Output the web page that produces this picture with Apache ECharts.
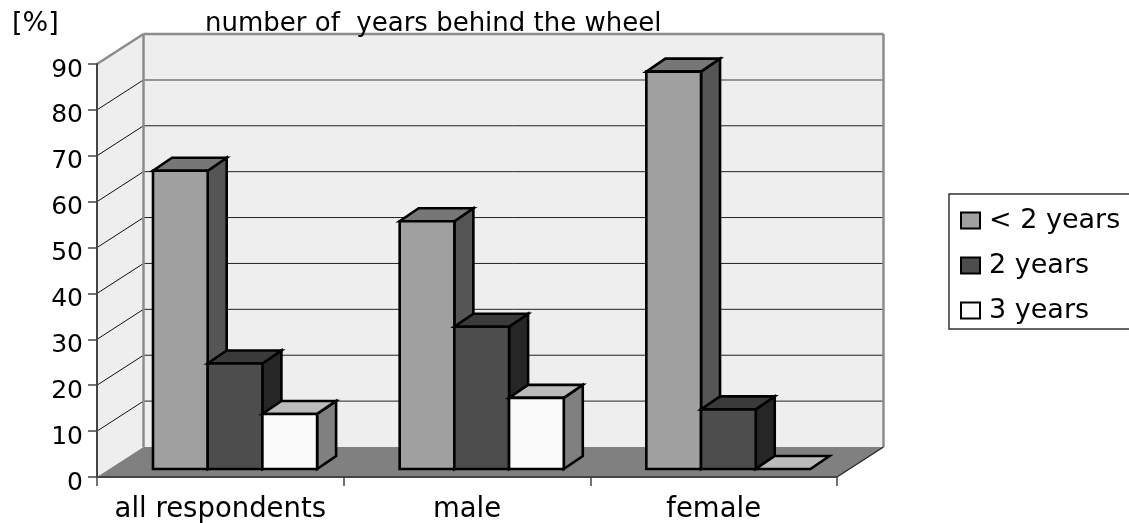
<!DOCTYPE html>
<html><head><meta charset="utf-8">
<script src="https://cdn.jsdelivr.net/npm/echarts@6/dist/echarts.min.js"></script>
<style>html,body{margin:0;padding:0;background:#fff}#c{width:1129px;height:523px}</style>
</head><body><div id="c"></div>
<script>
const categories = ['all respondents', 'male', 'female'];
const under2Years = [65, 54, 86.6];
const twoYears = [23, 31, 13];
const threeYears = [12, 15.5, 0];
const yTicks = [10, 20, 30, 40, 50, 60, 70, 80, 90];
const seriesNames = ['< 2 years', '2 years', '3 years'];
const seriesValues = [under2Years, twoYears, threeYears];
const titleText = 'number of  years behind the wheel';
const unitText = '[%]';

const FONT = 'DejaVu Sans';
const shades = [
  {front: '#a0a0a0', top: '#777777', side: '#555555'},
  {front: '#4d4d4d', top: '#3a3a3a', side: '#262626'},
  {front: '#fafafa', top: '#bbbbbb', side: '#808080'}
];
const WALL = {dx: 46.5, dy: -30};
const BAR = {left: 56, width: 54.7, dy: -8, depthX: 19, depthY: -13};

function poly(points, fill, stroke, lineWidth) {
  return {type: 'polygon', shape: {points},
    style: {fill, stroke: stroke || 'none', lineWidth: lineWidth || 0, lineJoin: 'miter'}};
}
function line(a, b, stroke, lineWidth) {
  return {type: 'line', shape: {x1: a[0], y1: a[1], x2: b[0], y2: b[1]}, style: {stroke, lineWidth}};
}

function renderWalls(params, api) {
  const band = api.size([1, 0])[0];
  const x0 = api.coord([0, 0])[0] - band / 2;
  const x1 = api.coord([categories.length - 1, 0])[0] + band / 2;
  const y0 = api.coord([0, 0])[1];
  const yT = api.coord([0, 90])[1];
  const bx0 = x0 + WALL.dx, bx1 = x1 + WALL.dx, by0 = y0 + WALL.dy, byT = yT + WALL.dy;
  const c = [
    poly([[x0, y0], [bx0, by0], [bx0, byT], [x0, yT]], '#eeeeee'),
    poly([[bx0, by0], [bx1, by0], [bx1, byT], [bx0, byT]], '#eeeeee'),
    poly([[x0, y0], [x1, y0], [bx1, by0], [bx0, by0]], '#808080')
  ];
  yTicks.forEach(t => {
    const y = api.coord([0, t])[1];
    if (t < 90) {
      c.push(line([x0, y], [bx0, y + WALL.dy], '#111111', 1));
      c.push(line([bx0, y + WALL.dy], [bx1, y + WALL.dy], t === 80 ? '#777777' : '#222222', t === 80 ? 1.5 : 1));
    }
  });
  c.push(line([x0, yT], [bx0, byT], '#8c8c8c', 2.5));
  c.push(line([bx0, byT], [bx1, byT], '#8c8c8c', 2.5));
  c.push(line([bx0, byT], [bx0, by0], '#8c8c8c', 2.5));
  c.push(line([bx1, byT], [bx1, by0], '#8c8c8c', 2.5));
  c.push(line([x1, y0], [bx1, by0], '#222222', 1.2));
  return {type: 'group', children: c};
}

function renderBar(seriesIndex) {
  return function (params, api) {
    const cat = api.value(0), val = api.value(1);
    const band = api.size([1, 0])[0];
    const l = api.coord([cat, 0])[0] - band / 2 + BAR.left + seriesIndex * BAR.width;
    const r = l + BAR.width;
    const b = api.coord([cat, 0])[1] + BAR.dy;
    const t = api.coord([cat, val])[1] + BAR.dy;
    const s = shades[seriesIndex], k = '#000000', w = 2.6;
    const children = [];
    if (b - t > 0.5) {
      children.push(poly([[r, b], [r + BAR.depthX, b + BAR.depthY], [r + BAR.depthX, t + BAR.depthY], [r, t]], s.side, k, w));
    }
    children.push(poly([[l, t], [r, t], [r + BAR.depthX, t + BAR.depthY], [l + BAR.depthX, t + BAR.depthY]], s.top, k, w));
    if (b - t > 0.5) {
      children.push(poly([[l, b], [r, b], [r, t], [l, t]], s.front, k, w));
    }
    return {type: 'group', children};
  };
}

const series = [{
  type: 'custom', name: 'walls', silent: true, z: 1,
  data: [[0, 0]], renderItem: renderWalls, encode: {x: 0, y: 1}
}];
seriesValues.forEach((vals, i) => {
  series.push({
    type: 'custom', name: seriesNames[i], z: 10 + i,
    itemStyle: {color: shades[i].front, borderColor: '#000', borderWidth: 2},
    data: vals.map((v, c) => [c, v]),
    renderItem: renderBar(i), encode: {x: 0, y: 1}
  });
});

const chart = echarts.init(document.getElementById('c'), null, {renderer: 'canvas'});
chart.setOption({
  animation: false,
  backgroundColor: '#fff',
  textStyle: {fontFamily: FONT},
  title: [
    {text: unitText, left: 12, top: 10, padding: 0, textStyle: {fontFamily: FONT, fontSize: 27, fontWeight: 'normal', color: '#000'}},
    {text: titleText, left: 205, top: 11, padding: 0, textStyle: {fontFamily: FONT, fontSize: 26, fontWeight: 'normal', color: '#000'}}
  ],
  legend: {
    orient: 'vertical', left: 949, top: 194,
    padding: [13, 10, 5, 11],
    itemWidth: 19, itemHeight: 16, itemGap: 18,
    borderColor: '#333', borderWidth: 1.5, borderRadius: 0,
    selectedMode: false, icon: 'rect',
    textStyle: {fontFamily: FONT, fontSize: 27, color: '#000', padding: [0, 0, 0, 4]},
    data: seriesNames.map((n, i) => ({name: n, icon: 'rect',
      itemStyle: {color: shades[i].front, borderColor: '#000', borderWidth: 2}}))
  },
  grid: {left: 97, right: 292, top: 64, bottom: 46, containLabel: false, outerBoundsMode: 'none'},
  xAxis: {
    type: 'category', data: categories, z: 5,
    axisLine: {show: true, lineStyle: {color: '#444', width: 2}},
    axisTick: {show: true, alignWithLabel: false, length: 9, lineStyle: {color: '#444', width: 1.5}},
    axisLabel: {color: '#000', fontFamily: FONT, fontSize: 27.5, margin: 19, interval: 0},
    splitLine: {show: false}
  },
  yAxis: {
    type: 'value', min: 0, max: 90, interval: 10, z: 5,
    axisLine: {show: true, lineStyle: {color: '#444', width: 2}},
    axisTick: {show: true, length: 9, lineStyle: {color: '#444', width: 1.5}},
    axisLabel: {color: '#000', fontFamily: FONT, fontSize: 25, margin: 14, verticalAlign: 'top', lineHeight: 12},
    splitLine: {show: false}
  },
  series
});
</script></body></html>
